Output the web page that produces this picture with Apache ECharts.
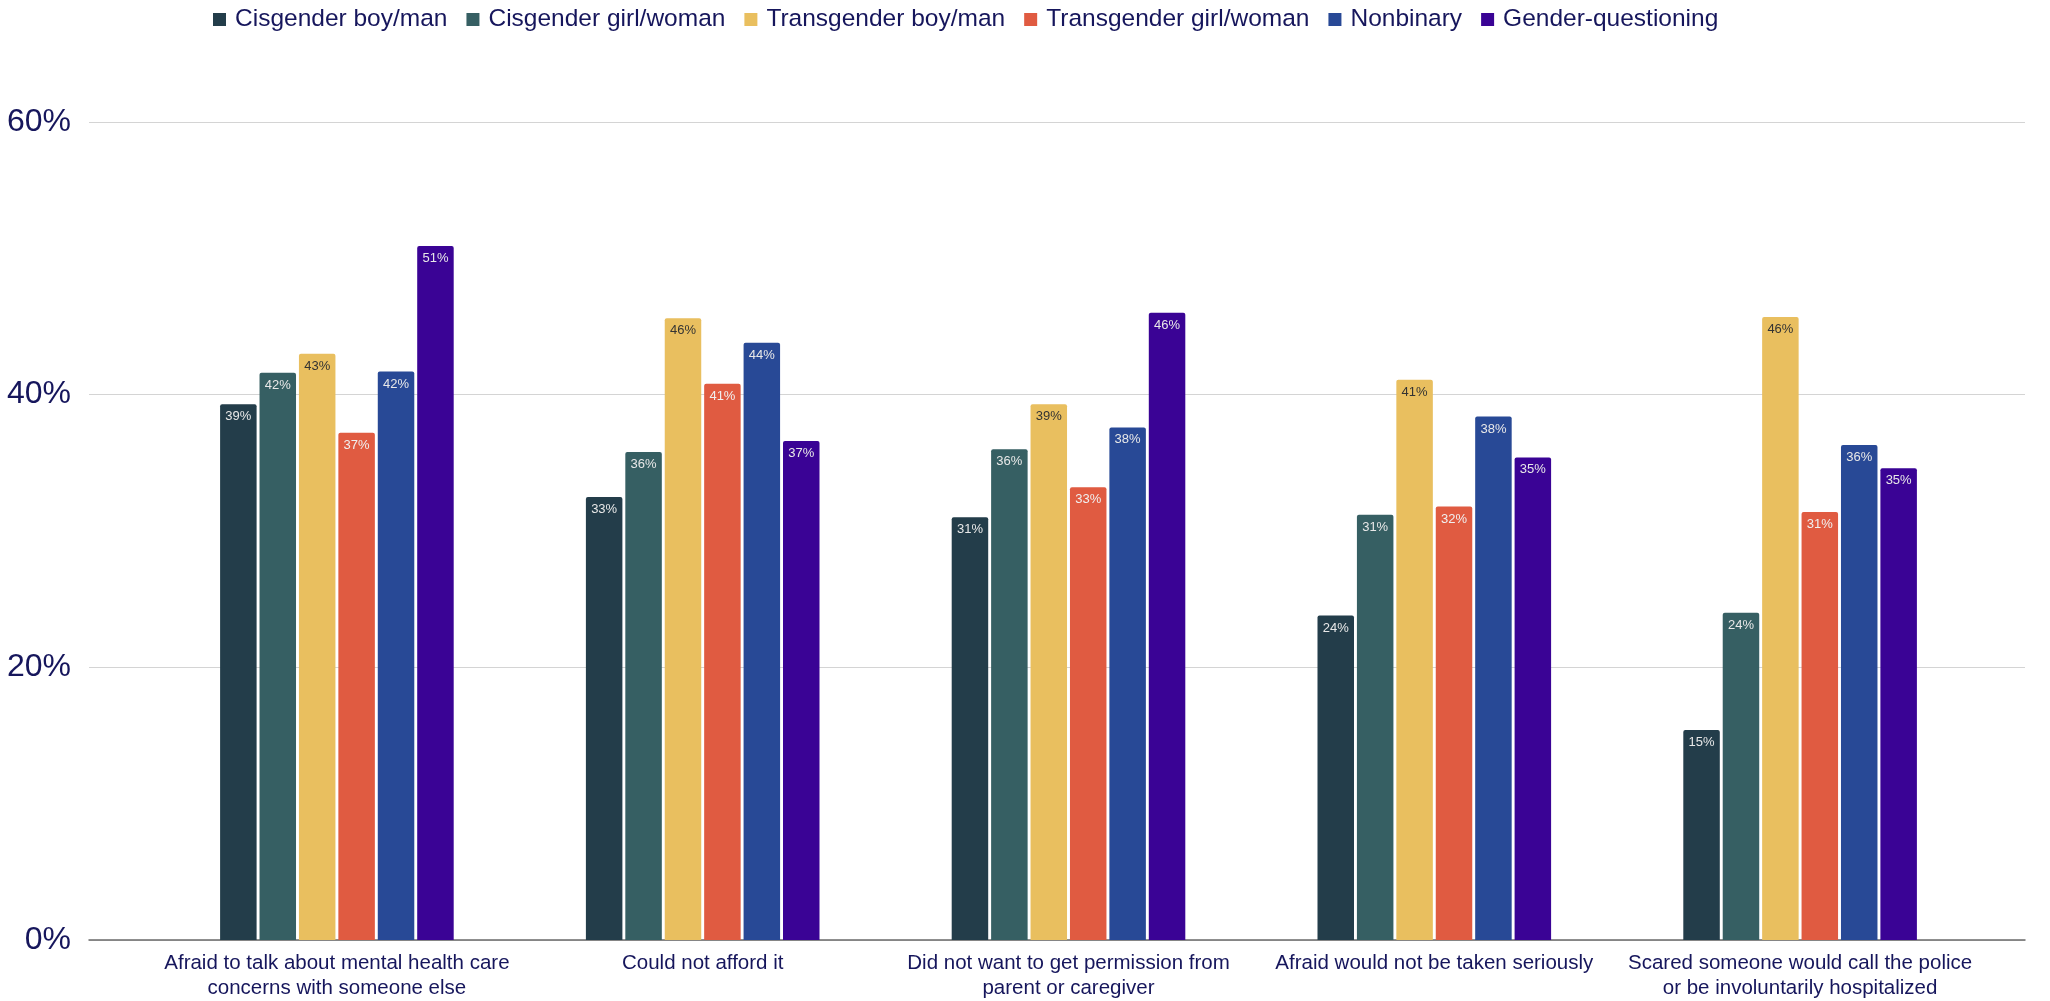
<!DOCTYPE html>
<html>
<head>
<meta charset="utf-8">
<script src="https://cdn.jsdelivr.net/npm/echarts@6/dist/echarts.min.js"></script>
<style>
html,body{margin:0;padding:0;background:#fff;}
#chart{width:2050px;height:1001px;}
</style>
</head>
<body>
<div id="chart"></div>
<script>
const categories = [
  "Afraid to talk about mental health care\nconcerns with someone else",
  "Could not afford it",
  "Did not want to get permission from\nparent or caregiver",
  "Afraid would not be taken seriously",
  "Scared someone would call the police\nor be involuntarily hospitalized"
];
const seriesNames = ["Cisgender boy/man", "Cisgender girl/woman", "Transgender boy/man", "Transgender girl/woman", "Nonbinary", "Gender-questioning"];
const cisBoy = [39.3, 32.5, 31.0, 23.8, 15.4];
const cisGirl = [41.6, 35.8, 36.0, 31.2, 24.0];
const transBoy = [43.0, 45.6, 39.3, 41.1, 45.7];
const transGirl = [37.2, 40.8, 33.2, 31.8, 31.4];
const nonbinary = [41.7, 43.8, 37.6, 38.4, 36.3];
const questioning = [50.9, 36.6, 46.0, 35.4, 34.6];
const yTicks = [0, 20, 40, 60];

const colors = ["#233d4a", "#365f63", "#e9bf5f", "#e05b41", "#284996", "#3a0395"];
const labelColors = ["#e8e8e8", "#e8e8e8", "#333333", "#f0f0f0", "#e8e8e8", "#e8e8e8"];
const allData = [cisBoy, cisGirl, transBoy, transGirl, nonbinary, questioning];
const FONT = "'Liberation Sans', Arial, sans-serif";
const NAVY = "#16165c";

const chart = echarts.init(document.getElementById('chart'));
const option = {
  backgroundColor: '#fff',
  animation: false,
  color: colors,
  legend: {
    data: seriesNames,
    left: 208,
    top: 2,
    itemWidth: 13,
    itemHeight: 13,
    itemGap: 19,
    icon: 'rect',
    textStyle: {fontFamily: FONT, fontSize: 24.5, color: NAVY, padding: [0,0,0,4]}
  },
  grid: [
    {left: 89, right: 25, top: 122, bottom: 61},
    {left: 154, right: 67, top: 122, bottom: 61}
  ],
  xAxis: [
    {gridIndex: 0, type: 'value', min: 0, max: 1, axisLabel: {show: false}, axisTick: {show: false}, splitLine: {show: false},
     axisLine: {show: true, lineStyle: {color: '#6b6b6b', width: 1.5}}},
    {gridIndex: 1, type: 'category', data: categories, axisLine: {show: false}, axisTick: {show: false},
     axisLabel: {fontFamily: FONT, fontSize: 20.5, color: NAVY, lineHeight: 25, margin: 11, interval: 0}}
  ],
  yAxis: [
    {gridIndex: 0, type: 'value', min: yTicks[0], max: yTicks[yTicks.length-1], interval: 20,
     axisLine: {show: false}, axisTick: {show: false},
     axisLabel: {formatter: v => v + '%', fontFamily: FONT, fontSize: 32, color: NAVY, margin: 18},
     splitLine: {lineStyle: {color: '#d4d4d4', width: 1}}},
    {gridIndex: 1, type: 'value', min: 0, max: 60, show: false}
  ],
  series: allData.map((d, i) => ({
    name: seriesNames[i],
    type: 'bar',
    xAxisIndex: 1,
    yAxisIndex: 1,
    data: d,
    barWidth: 36.5,
    barGap: '8%',
    itemStyle: {color: colors[i], borderRadius: [2, 2, 0, 0]},
    label: {
      show: true,
      position: 'insideTop',
      distance: 6,
      formatter: p => Math.round(p.value) + '%',
      fontFamily: FONT,
      fontSize: 13,
      color: labelColors[i]
    }
  }))
};
chart.setOption(option);
</script>
</body>
</html>
